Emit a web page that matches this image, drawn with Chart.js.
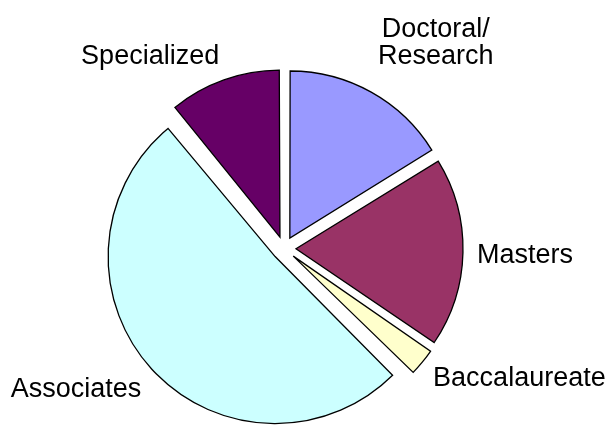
<!DOCTYPE html>
<html>
<head>
<meta charset="utf-8">
<script src="https://cdn.jsdelivr.net/npm/chart.js@4/dist/chart.umd.min.js"></script>
<style>
  html, body { margin: 0; padding: 0; background: #fff; }
  #wrap { width: 607px; height: 426px; }
</style>
</head>
<body>
<div id="wrap"><canvas id="pie"></canvas></div>
<script>
// exploded pie: institution types, share in percent
const categories = [["Doctoral/", "Research"], "Masters", "Baccalaureate", "Associates", "Specialized"];
const shares = [16.2, 18.3, 2.9, 51.7, 10.9];
const sliceColors = ["#9999FF", "#993366", "#FFFFCC", "#CCFFFF", "#660066"];

const PIE_RADIUS = 167;
const EXPLODE = 12; // px each slice is pulled out
const labelShiftY = [-16, 0, -3, 0, 0];

// chart.js moves an arc by offset/4 and also grows its radius a bit;
// undo the growth so every slice keeps the same radius
const keepRadius = {
  id: "keepRadius",
  beforeDatasetsDraw(chart) {
    chart.getDatasetMeta(0).data.forEach((arc) => {
      const circ = arc.endAngle - arc.startAngle;
      const fix = 1 - Math.sin(Math.min(Math.PI, circ));
      arc.outerRadius = PIE_RADIUS - EXPLODE * fix;
    });
  },
};

// labels outside each slice, like the spreadsheet original
const sliceLabels = {
  id: "sliceLabels",
  afterDatasetsDraw(chart) {
    const ctx = chart.ctx;
    const size = 27;
    const lineH = 26.5;
    ctx.save();
    ctx.font = size + 'px "Liberation Sans", Arial, Helvetica, sans-serif';
    ctx.fillStyle = "#000";
    ctx.textBaseline = "alphabetic";
    chart.getDatasetMeta(0).data.forEach((arc, i) => {
      const mid = (arc.startAngle + arc.endAngle) / 2;
      const dx = Math.cos(mid);
      const dy = Math.sin(mid);
      const dist = PIE_RADIUS + EXPLODE + 14;
      const ax = arc.x + dx * dist;
      const ay = arc.y + dy * dist;
      const lines = [].concat(categories[i]);
      const w = Math.max(...lines.map((t) => ctx.measureText(t).width));
      const h = lineH * (lines.length - 1) + size;
      const cx = dx >= 0 ? ax + w / 2 : ax - w / 2;
      const cy = ay + (dy * h) / 2 + labelShiftY[i];
      const cap = size * 0.716;
      const firstBase = cy - (lineH * (lines.length - 1)) / 2 + cap / 2;
      ctx.textAlign = "center";
      lines.forEach((t, k) => ctx.fillText(t, cx, firstBase + k * lineH));
    });
    ctx.restore();
  },
};

new Chart(document.getElementById("pie"), {
  type: "pie",
  data: {
    labels: categories,
    datasets: [
      {
        data: shares,
        backgroundColor: sliceColors,
        borderColor: "#000",
        borderWidth: 1.3,
        borderJoinStyle: "miter",
        offset: EXPLODE * 4,
      },
    ],
  },
  options: {
    responsive: true,
    maintainAspectRatio: false,
    animation: false,
    radius: PIE_RADIUS,
    layout: { padding: { left: 0, right: 39, top: 71, bottom: 0 } },
    plugins: { legend: { display: false }, tooltip: { enabled: false } },
    events: [],
  },
  plugins: [keepRadius, sliceLabels],
});
</script>
</body>
</html>
